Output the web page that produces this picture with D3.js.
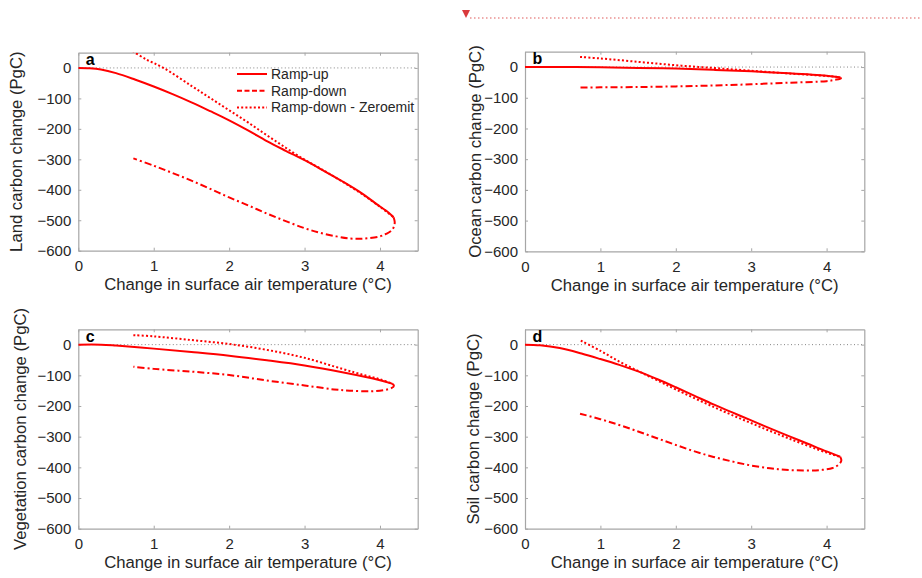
<!DOCTYPE html>
<html><head><meta charset="utf-8">
<script src="https://cdn.jsdelivr.net/npm/d3@7"></script>
<style>
body{margin:0;background:#fff;}
svg{display:block;font-family:"Liberation Sans",Arial,Helvetica,sans-serif;}
</style></head>
<body><svg id="c" width="922" height="578"></svg>
<script>
// ---- data: [temperature change (°C), carbon change (PgC)] ----
const xTicks = [0,1,2,3,4];
const yTicks = [0,-100,-200,-300,-400,-500,-600];
const seriesNames = ["Ramp-up","Ramp-down","Ramp-down - Zeroemit"];
const panelLetters = ["a","b","c","d"];
const yLabels = ["Land carbon change (PgC)","Ocean carbon change (PgC)","Vegetation carbon change (PgC)","Soil carbon change (PgC)"];

const landUp = [[0,0],[0.15,-1],[0.3,-5],[0.5,-17],[0.75,-38],[1.0,-61],[1.25,-86],[1.5,-113],[1.75,-142],[2.0,-172],[2.25,-205],[2.5,-240],[2.75,-272],[3.0,-303],[3.25,-337],[3.5,-372],[3.75,-410],[4.0,-455],[4.1,-472],[4.16,-485],[4.18,-490]];
const landDown = [[4.18,-490],[4.195,-505],[4.19,-517],[4.16,-532],[4.08,-545],[4.0,-553],[3.85,-559],[3.73,-561],[3.6,-560],[3.42,-553],[3.2,-541],[3.0,-526],[2.75,-503],[2.5,-478],[2.25,-451],[2.0,-425],[1.75,-397],[1.5,-370],[1.25,-345],[1.0,-321],[0.73,-297]];
const landZero = [[0.72,55],[0.9,28],[1.13,0],[1.5,-59],[1.75,-99],[2.0,-139],[2.25,-179],[2.5,-221],[2.75,-262],[3.0,-301],[3.25,-336],[3.5,-373],[3.75,-412],[4.0,-456],[4.18,-490]];

const oceanUp = [[0,0],[0.5,0],[1.0,-1],[1.5,-3],[2.0,-5],[2.5,-9],[3.0,-14],[3.5,-20],[4.0,-28],[4.18,-33]];
const oceanDown = [[4.18,-34],[4.19,-37],[4.1,-42],[4.0,-46],[3.5,-51],[3.0,-56],[2.5,-60],[2.0,-63],[1.5,-65],[1.0,-66],[0.73,-67]];
const oceanZero = [[0.73,33],[1.0,28],[1.5,17],[2.0,6],[2.5,-3],[3.0,-12],[3.5,-21],[4.0,-29],[4.18,-33]];

const vegUp = [[0,0],[0.3,0],[0.5,-3],[1.0,-13],[1.5,-24],[2.0,-36],[2.5,-51],[3.0,-68],[3.5,-90],[4.0,-116],[4.16,-127]];
const vegDown = [[4.16,-127],[4.185,-134],[4.15,-142],[4.05,-148],[3.87,-152],[3.6,-150],[3.39,-146],[3.0,-133],[2.5,-117],[2.0,-99],[1.5,-88],[1.0,-79],[0.73,-72]];
const vegZero = [[0.73,31],[1.0,27],[1.5,15],[2.0,2],[2.5,-17],[3.0,-43],[3.5,-79],[3.8,-100],[4.0,-113],[4.16,-127]];

const soilUp = [[0,0],[0.2,-2],[0.46,-11],[0.75,-29],[1.0,-47],[1.25,-66],[1.5,-87],[1.75,-112],[2.0,-139],[2.25,-167],[2.5,-195],[2.75,-221],[3.0,-247],[3.25,-273],[3.5,-298],[3.75,-323],[4.0,-348],[4.18,-365]];
const soilDown = [[4.18,-365],[4.195,-378],[4.16,-391],[4.08,-402],[3.91,-409],[3.69,-410],[3.45,-408],[3.25,-403],[3.0,-394],[2.75,-381],[2.5,-366],[2.25,-348],[2.0,-327],[1.75,-305],[1.5,-283],[1.25,-262],[1.0,-243],[0.73,-225]];
const soilZero = [[0.74,13],[1.0,-20],[1.25,-55],[1.5,-86],[1.75,-116],[2.0,-146],[2.5,-203],[3.0,-256],[3.5,-306],[4.0,-352],[4.18,-366]];

const panelData = [
  [landUp, landDown, landZero],
  [oceanUp, oceanDown, oceanZero],
  [vegUp, vegDown, vegZero],
  [soilUp, soilDown, soilZero]
];

// ---- layout ----
const svg = d3.select("#c");
const boxes = [
  {x0:78.3, x1:417.7, y0:52.7, y1:250.7, lab:56},
  {x0:525,  x1:864.3, y0:51.7, y1:251.3, lab:44.5},
  {x0:78.3, x1:417.7, y0:329.3, y1:528.7, lab:52},
  {x0:525,  x1:864.3, y0:329.3, y1:528.7, lab:46}
];
const red = "#ff0000";
const dashes = ["none","7,3,2,3","2,2.2"];
const axisGray = "#a6a6a6";
const textCol = "#262626";

// top annotation marker
svg.append("path").attr("d","M462,10 L470,10 L466,18 Z").attr("fill","#d93a3c");
svg.append("line").attr("x1",470).attr("x2",922).attr("y1",18).attr("y2",18)
  .attr("stroke","#e05a5a").attr("stroke-width",1.2).attr("stroke-dasharray","1.5,2.5");

boxes.forEach((b,i)=>{
  const x = d3.scaleLinear().domain([0,4.5]).range([b.x0,b.x1]);
  const y = d3.scaleLinear().domain([-600,50]).range([b.y1,b.y0]);
  const g = svg.append("g");
  const cid = "clip"+i;
  g.append("clipPath").attr("id",cid).append("rect")
    .attr("x",b.x0).attr("y",b.y0).attr("width",b.x1-b.x0).attr("height",b.y1-b.y0);

  // zero reference line
  g.append("line").attr("x1",x(0)).attr("x2",x(4.5)).attr("y1",y(0)).attr("y2",y(0))
    .attr("stroke","#666").attr("stroke-width",0.8).attr("stroke-dasharray","1,2.5");

  // axes
  const ax = g.append("g").attr("transform",`translate(0,${b.y1})`)
    .call(d3.axisBottom(x).tickValues(xTicks).tickSizeInner(-3).tickSizeOuter(0).tickPadding(10).tickFormat(d3.format("d")));
  const axT = g.append("g").attr("transform",`translate(0,${b.y0})`)
    .call(d3.axisTop(x).tickValues(xTicks).tickSizeInner(-3).tickSizeOuter(0).tickFormat(""));
  const ay = g.append("g").attr("transform",`translate(${b.x0},0)`)
    .call(d3.axisLeft(y).tickValues(yTicks).tickSizeInner(-3).tickSizeOuter(0).tickPadding(7).tickFormat(d3.format("d")));
  const ayR = g.append("g").attr("transform",`translate(${b.x1},0)`)
    .call(d3.axisRight(y).tickValues(yTicks).tickSizeInner(-3).tickSizeOuter(0).tickFormat(""));
  [ax,axT,ay,ayR].forEach(a=>{
    a.select(".domain").attr("stroke",axisGray).attr("stroke-width",1.2);
    a.selectAll(".tick line").attr("stroke",axisGray);
    a.selectAll(".tick text").attr("fill",textCol).attr("font-size",15).attr("font-family","Liberation Sans, Arial, sans-serif");
  });

  // series
  const lineP = d3.line().x(d=>x(d[0])).y(d=>y(d[1])).curve(d3.curveCatmullRom.alpha(0.5));
  panelData[i].forEach((s,k)=>{
    g.append("path").attr("clip-path",`url(#${cid})`).attr("d",lineP(s))
      .attr("fill","none").attr("stroke",red).attr("stroke-width",2)
      .attr("stroke-dasharray",dashes[k]);
  });

  // panel letter
  g.append("text").attr("x",b.x0+7.5).attr("y",b.y0+12.3).attr("font-weight","bold")
    .attr("font-size",16).attr("fill","#000").text(panelLetters[i]);

  // axis labels
  g.append("text").attr("x",(b.x0+b.x1)/2).attr("y",b.y1+39.5).attr("text-anchor","middle")
    .attr("font-size",16.7).attr("fill",textCol).text("Change in surface air temperature (°C)");
  g.append("text").attr("transform",`translate(${b.x0-b.lab},${(b.y0+b.y1)/2}) rotate(-90)`)
    .attr("text-anchor","middle").attr("font-size",16.7).attr("fill",textCol).text(yLabels[i]);

  // legend in panel a
  if(i===0){
    seriesNames.forEach((n,k)=>{
      const ly = 74 + k*16.8;
      g.append("line").attr("x1",237).attr("x2",267).attr("y1",ly).attr("y2",ly)
        .attr("stroke",red).attr("stroke-width",2).attr("stroke-dasharray",k===1?"5,2.5":dashes[k]);
      g.append("text").attr("x",271).attr("y",ly+4.8).attr("font-size",14).attr("fill",textCol).text(n);
    });
  }
});
</script></body></html>
